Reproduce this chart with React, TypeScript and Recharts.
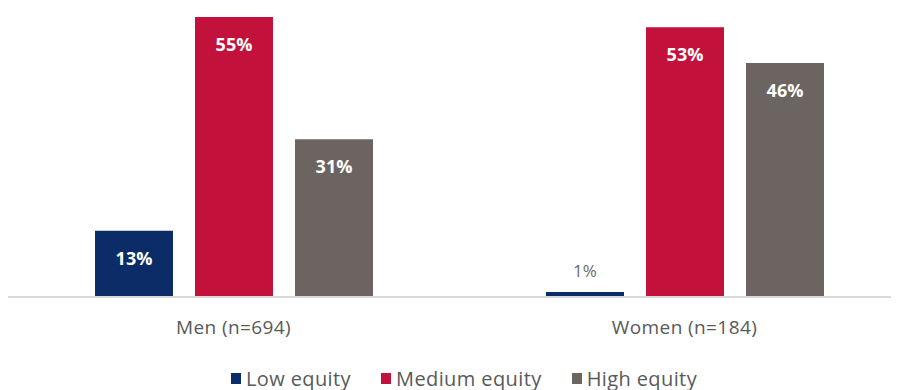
import React from "react";
import { BarChart, Bar, XAxis, YAxis, LabelList, Legend } from "recharts";

const categories = ["Men (n=694)", "Women (n=184)"];
const lowEquity = [13, 1];
const mediumEquity = [55, 53];
const highEquity = [31, 46];
const seriesNames = ["Low equity", "Medium equity", "High equity"];
const seriesColors = ["#0B2C66", "#C2113A", "#6B6461"];

const data = categories.map((c, i) => ({
  name: c,
  low: lowEquity[i],
  medium: mediumEquity[i],
  high: highEquity[i],
}));
const keys = ["low", "medium", "high"];

const FONT = "'Open Sans', 'DejaVu Sans', sans-serif";

const renderLabel = (props: any) => {
  const { x, y, width, value } = props;
  const cx = x + width / 2;
  if (value < 5) {
    return (
      <text x={cx} y={y - 21} textAnchor="middle" dominantBaseline="central" fill="#6b6b6b" fontSize={17} fontFamily={FONT}>
        {value}%
      </text>
    );
  }
  return (
    <text x={cx} y={y + 27} textAnchor="middle" dominantBaseline="central" fill="#ffffff" fontSize={18} fontWeight={700} fontFamily={FONT}>
      {value}%
    </text>
  );
};

const CustomTick = (props: any) => {
  const { x, y, payload } = props;
  return (
    <text x={x} y={y + 30} textAnchor="middle" dominantBaseline="central" fill="#595959" fontSize={19} letterSpacing={0.4} fontFamily={FONT}>
      {payload.value}
    </text>
  );
};

const CustomLegend = () => (
  <div style={{ display: "flex", justifyContent: "center", alignItems: "center", height: 24, fontFamily: FONT, fontSize: 20, letterSpacing: 0.4, color: "#595959", paddingLeft: 10 }}>
    {seriesNames.map((n, i) => (
      <div key={n} style={{ display: "flex", alignItems: "center", marginLeft: i === 0 ? 0 : 30 }}>
        <span style={{ display: "inline-block", width: 10, height: 11, background: seriesColors[i], marginRight: 5 }} />
        <span>{n}</span>
      </div>
    ))}
  </div>
);

export default function App() {
  return (
    <div style={{ width: 891, overflow: "hidden" }}>
      <BarChart
        width={902}
        height={382}
        data={data}
        margin={{ top: 4, right: 0, bottom: 0, left: 0 }}
        barSize={78}
        barGap={22}
      >
        <XAxis
          dataKey="name"
          axisLine={{ stroke: "#d9d9d9", strokeWidth: 2 }}
          tickLine={false}
          tickSize={0}
          tickMargin={0}
          height={69}
          tick={<CustomTick />}
          interval={0}
        />
        <YAxis hide domain={[0, 56]} />
        <Legend verticalAlign="bottom" height={24} content={<CustomLegend />} />
        {keys.map((k, i) => (
          <Bar key={k} dataKey={k} name={seriesNames[i]} fill={seriesColors[i]} isAnimationActive={false}>
            <LabelList dataKey={k} content={renderLabel} />
          </Bar>
        ))}
      </BarChart>
    </div>
  );
}
